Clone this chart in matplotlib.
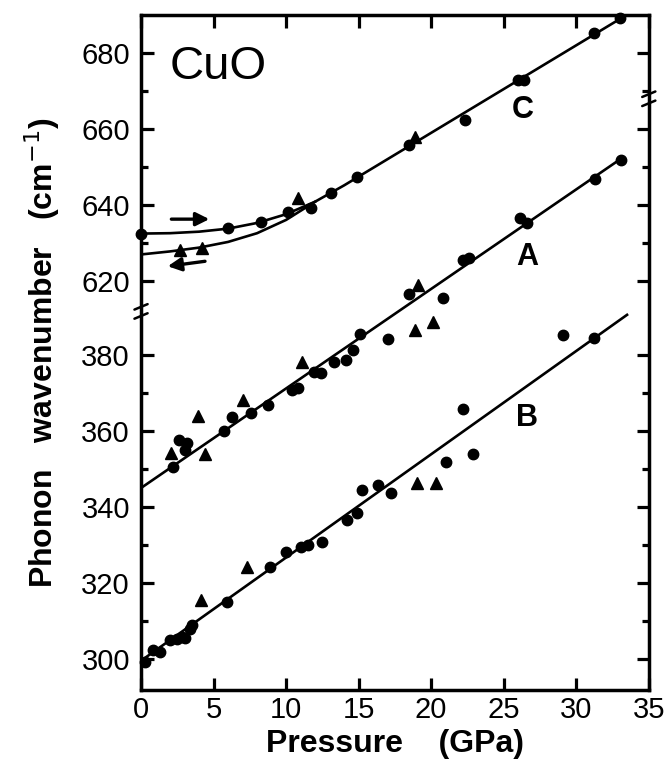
import numpy as np
import matplotlib
matplotlib.use('Agg')
import matplotlib.pyplot as plt
from matplotlib.ticker import FixedLocator
from matplotlib.transforms import blended_transform_factory

# ---- data (pressure in GPa, wavenumber in cm^-1) ----
A_fit_p = [0, 33]
A_fit_v = [345, 652]
A_circ_p = [2.2, 2.6, 3.0, 3.2, 5.7, 6.3, 7.6, 8.75, 10.4, 10.8, 11.9, 12.4, 13.3, 14.1,
            14.6, 15.1, 17.0, 18.5, 20.8, 22.2, 22.6, 26.1, 26.6, 31.3, 33.1]
A_circ_v = [350.5, 357.6, 355.0, 356.8, 360.0, 363.7, 364.7, 366.8, 370.8, 371.3, 375.5,
            375.3, 378.2, 378.7, 381.3, 385.5, 384.2, 616.6, 615.5, 625.5, 626.0, 636.5,
            635.3, 647.0, 651.8]
A_tri_p = [2.1, 3.9, 4.4, 7.0, 11.1, 18.9, 20.1, 19.1]
A_tri_v = [354.2, 364.0, 354.0, 368.2, 378.2, 386.6, 388.7, 619.0]

B_fit_p = [0, 33.5]
B_fit_v = [299.5, 390.6]
B_circ_p = [0.3, 0.8, 1.3, 2.0, 2.5, 2.8, 3.0, 3.4, 3.5, 5.9, 8.9, 10.0, 11.0, 11.5, 12.5,
            14.2, 14.9, 15.2, 16.3, 17.2, 21.0, 22.2, 22.9, 29.1, 31.2]
B_circ_v = [299.2, 302.4, 301.8, 305.0, 305.3, 305.8, 305.5, 307.9, 309.0, 315.0, 324.2,
            328.2, 329.5, 330.0, 330.8, 336.6, 338.4, 344.5, 345.8, 343.7, 351.8, 365.8,
            354.0, 385.3, 384.5]
B_tri_p = [4.1, 7.3, 19.0, 20.3]
B_tri_v = [315.5, 324.2, 346.3, 346.3]

C_up_p = [0, 2, 4, 6, 8, 10, 12, 14, 33]
C_up_v = [632.5, 632.6, 633.0, 633.8, 635.3, 637.6, 640.9, 645.2, 689]
C_dn_p = [0, 2, 4, 6, 8, 10, 12]
C_dn_v = [627.0, 627.8, 628.8, 630.3, 632.6, 636.1, 640.9]
C_circ_p = [0, 6.0, 8.3, 10.1, 11.7, 13.1, 14.9, 18.5, 22.3, 26.0, 26.4, 31.2, 33.0]
C_circ_v = [632.5, 634.0, 635.5, 638.2, 639.2, 643.2, 647.4, 655.8, 662.4, 672.9, 672.9,
            685.3, 689.2]
C_tri_p = [2.7, 4.2, 10.8, 18.9]
C_tri_v = [628.2, 628.7, 641.8, 657.9]

x_ticks = [0, 5, 10, 15, 20, 25, 30, 35]
y_ticks = [300, 320, 340, 360, 380, 620, 640, 660, 680]
y_minor = [310, 330, 350, 370, 630, 650, 670]

# broken y axis: values above the gap are shifted down
LOW_TOP, HIGH_BOT = 391.5, 612.0
SHIFT = HIGH_BOT - LOW_TOP


def fwd(v):
    v = np.asarray(v, dtype=float)
    return np.where(v > 500, v - SHIFT, v)


def inv(y):
    y = np.asarray(y, dtype=float)
    return np.where(y > LOW_TOP, y + SHIFT, y)


plt.rcParams['font.family'] = ['Liberation Sans', 'DejaVu Sans']

fig = plt.figure(figsize=(6.69, 7.62), dpi=100)
ax = fig.add_axes([0.2108, 0.0945, 0.759, 0.8855])
ax.set_yscale('function', functions=(fwd, inv))
ax.set_xlim(0, 35)
ax.set_ylim(291.8, 690)

lw = 1.9
ms = 7.5
ax.plot(A_fit_p, A_fit_v, color='black', lw=lw)
ax.plot(B_fit_p, B_fit_v, color='black', lw=lw)
ax.plot(C_up_p, C_up_v, color='black', lw=lw)
ax.plot(C_dn_p, C_dn_v, color='black', lw=lw)

for p, v in [(A_circ_p, A_circ_v), (B_circ_p, B_circ_v), (C_circ_p, C_circ_v)]:
    ax.plot(p, v, 'o', color='black', ms=ms, clip_on=False)
for p, v in [(A_tri_p, A_tri_v), (B_tri_p, B_tri_v), (C_tri_p, C_tri_v)]:
    ax.plot(p, v, '^', color='black', ms=ms + 1, clip_on=False)

# hysteresis arrows on C
ax.annotate('', xy=(4.9, 636.3), xytext=(1.9, 636.3),
            arrowprops=dict(arrowstyle='-|>', color='black', lw=2.4, mutation_scale=20))
ax.annotate('', xy=(1.65, 623.8), xytext=(4.6, 625.3),
            arrowprops=dict(arrowstyle='-|>', color='black', lw=2.4, mutation_scale=20))

lab = dict(fontsize=22, fontweight='bold')
ax.text(26.3, 665, 'C', ha='center', va='center', **lab)
ax.text(26.6, 626.3, 'A', ha='center', va='center', **lab)
ax.text(26.6, 363.4, 'B', ha='center', va='center', **lab)
ax.text(2.0, 676.5, 'CuO', ha='left', va='center', fontsize=34)

# axis break marks
tr = blended_transform_factory(ax.transAxes, ax.transData)
for xa, yv in [(0.0, LOW_TOP), (1.0, 668.0)]:
    for dy in (-1.2, 1.2):
        ax.annotate('', xy=(xa + 0.018, yv + dy + 1.0), xytext=(xa - 0.018, yv + dy - 1.0),
                    xycoords=tr, textcoords=tr,
                    arrowprops=dict(arrowstyle='-', color='black', lw=1.8))

for s in ax.spines.values():
    s.set_linewidth(2.5)

ax.xaxis.set_major_locator(FixedLocator(x_ticks))
ax.yaxis.set_major_locator(FixedLocator(y_ticks))
ax.yaxis.set_minor_locator(FixedLocator(y_minor))
ax.set_yticklabels([str(t) for t in y_ticks])
ax.tick_params(which='both', direction='in', top=True, right=True, width=2.3)
ax.tick_params(which='major', length=9, labelsize=21)
ax.tick_params(axis='y', which='major', pad=8)
ax.tick_params(axis='x', which='major', pad=4)
ax.tick_params(which='minor', length=5)

ax.set_xlabel('Pressure    (GPa)', fontsize=23, fontweight='bold', labelpad=4)
ax.set_ylabel('Phonon   wavenumber   (cm$^{-1}$)', fontsize=23, fontweight='bold', labelpad=14)

fig.savefig('out.png', dpi=100)
